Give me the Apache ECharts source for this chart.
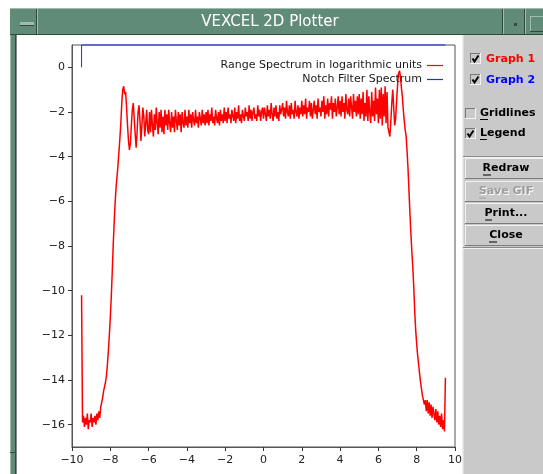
<!DOCTYPE html>
<html>
<head>
<meta charset="utf-8">
<script src="https://cdn.jsdelivr.net/npm/echarts@6/dist/echarts.min.js"></script>
<style>
  html, body { margin: 0; padding: 0; background: #fff; }
  #chart { width: 543px; height: 474px; }
</style>
</head>
<body>
<div id="chart"></div>
<script>
// samples of the range spectrum, one every 0.05 from -9.5
const rangeStart = -9.5;
const rangeStep = 0.05;
const rangeValues = [
  -10.2, -15.9, -15.6, -16.1, -15.7, -16.0, -15.5, -16.2, -15.8, -15.9, -15.5, -16.1, -15.7, -15.9, -15.6, -16.0, -15.5, -15.8, -15.4, -15.7,
  -15.2, -15.0, -14.8, -14.5, -14.3, -14.1, -13.8, -13.3, -12.7, -12.0, -11.2, -10.3, -9.2, -8.0, -7.0, -6.1, -5.4, -4.9, -4.4, -3.8, -3.2, -2.5, -1.6, -1.0, -0.85,
  -1.2, -1.1, -1.8, -2.6, -3.3, -3.7, -3.4, -2.6, -1.9, -1.6, -2.3, -3.0, -3.6, -2.9, -2.0, -1.7, -2.4, -3.3, -2.6, -1.8, -2.2, -3.1, -2.5, -1.9, -2.8,
  -3.0, -2.0, -2.9, -1.9, -2.6, -3.1, -2.1, -2.8, -1.8, -2.5, -3.0, -2.0, -2.7, -1.9, -2.9, -2.2, -3.0, -1.9, -2.6, -2.1,
  -2.8, -1.9, -2.5, -2.9, -2.0, -2.7, -2.2, -2.9, -1.9, -2.4, -2.8, -2.0, -2.6, -2.1, -2.9, -2.0, -2.5, -2.7, -1.9, -2.6,
  -2.2, -2.7, -1.9, -2.5, -2.1, -2.7, -2.0, -2.4, -2.6, -1.9, -2.5, -2.2, -2.7, -2.0, -2.3, -2.6, -1.9, -2.5, -2.1, -2.6,
  -2.0, -2.5, -1.9, -2.6, -2.1, -2.4, -1.8, -2.5, -2.2, -2.6, -1.9, -2.3, -2.5, -2.0, -2.6, -1.9, -2.4, -2.1, -2.5, -1.8,
  -2.4, -2.0, -2.5, -1.8, -2.3, -2.1, -2.5, -1.9, -2.2, -2.4, -1.8, -2.5, -2.0, -2.3, -1.7, -2.4, -2.1, -2.5, -1.9, -2.2,
  -2.4, -1.8, -2.2, -2.0, -2.4, -1.7, -2.3, -1.9, -2.4, -2.0, -1.8, -2.3, -2.1, -2.4, -1.7, -2.2, -1.9, -2.4, -2.0, -1.8,
  -2.3, -1.8, -2.1, -2.4, -1.7, -2.2, -1.9, -2.3, -1.6, -2.1, -2.4, -1.8, -2.2, -1.7, -2.3, -2.0, -2.4, -1.7, -2.1, -1.9,
  -1.6, -2.2, -1.8, -2.3, -1.5, -2.0, -2.2, -1.7, -2.3, -1.6, -2.1, -1.9, -2.3, -1.5, -2.0, -2.2, -1.7, -2.3, -1.8, -2.1,
  -1.5, -2.2, -1.7, -2.1, -1.4, -2.3, -1.8, -2.0, -1.5, -2.2, -1.6, -2.3, -1.9, -1.5, -2.1, -1.7, -2.3, -1.4, -2.0, -1.8,
  -2.2, -1.5, -2.0, -1.3, -2.3, -1.7, -2.1, -1.4, -2.2, -1.6, -1.9, -1.3, -2.3, -1.6, -2.0, -1.4, -2.2, -1.8, -1.3, -2.1,
  -1.5, -2.2, -1.3, -2.0, -1.6, -2.3, -1.2, -1.9, -2.1, -1.4, -2.2, -1.3, -1.8, -2.3, -1.2, -2.0, -1.5, -2.2, -1.3, -2.1,
  -1.2, -2.3, -1.4, -2.1, -1.1, -2.4, -1.6, -2.2, -1.0, -2.4, -1.3, -2.0, -2.5, -1.1, -2.2, -1.5, -2.4, -0.9, -2.1, -1.4,
  -2.5, -1.0, -2.3, -0.9, -2.6, -1.2, -2.2, -0.85, -2.5, -1.1, -2.7, -2.9, -3.1, -2.4, -1.6, -1.0, -1.8, -2.6, -2.3, -1.5,
  -0.8, -0.3, -0.15, -0.4, -0.9, -1.3, -1.9, -2.4, -2.8, -3.1, -3.8, -4.6, -5.6, -6.6, -7.5, -8.3, -9.0, -9.9, -11.0, -11.8,
  -12.4, -12.9, -13.3, -13.7, -14.1, -14.4, -14.7, -14.9, -15.1, -14.9, -15.4, -14.9, -15.5, -15.0, -15.6, -15.1, -15.7, -15.2, -15.5, -15.8,
  -15.3, -15.9, -15.4, -16.0, -15.6, -16.1, -15.5, -16.2, -15.8, -16.3,
  -13.9
];

// notch filter: a step at -9.5 up to the top of the plot
const notchX = [-9.5, -9.5, 9.5];
const notchValues = [0, 1, 1];

const seriesNames = ['Range Spectrum in logarithmic units', 'Notch Filter Spectrum'];
const xTicks = [-10, -8, -6, -4, -2, 0, 2, 4, 6, 8, 10];
const yTicks = [0, -2, -4, -6, -8, -10, -12, -14, -16];

const rangeData = rangeValues.map((v, i) => [rangeStart + i * rangeStep, v]);
const notchData = notchX.map((x, i) => [x, notchValues[i]]);

const FONT = 'DejaVu Sans';
const GREEN = '#618b79';
const GREEN_LIGHT = '#9fbdaf';
const GREEN_DARK = '#33483f';
const PANEL = '#c9c9c9';

const minus = (v) => String(v).replace('-', '\u2212');

// window chrome, drawn around the plot
const chrome = [];
const rect = (x, y, w, h, fill, z) =>
  chrome.push({ type: 'rect', shape: { x, y, width: w, height: h }, style: { fill }, z: z || 1, silent: true });
const line = (x1, y1, x2, y2, stroke, z) =>
  chrome.push({ type: 'line', shape: { x1, y1, x2, y2 }, style: { stroke, lineWidth: 1 }, z: z || 2, silent: true });
const label = (x, y, text, opts) =>
  chrome.push({
    type: 'text', x, y, z: 3, silent: true,
    style: Object.assign({ text, fontFamily: FONT, fontSize: 11, fill: '#000', verticalAlign: 'middle', textAlign: 'left' }, opts)
  });

// title bar
rect(10, 8, 533, 27, GREEN);
line(10, 8.5, 543, 8.5, GREEN_LIGHT);
line(10, 34.5, 543, 34.5, GREEN_DARK);
line(37.5, 9, 37.5, 34, GREEN_LIGHT);
line(36.5, 9, 36.5, 34, GREEN_DARK);
rect(20, 22, 14, 3, GREEN_LIGHT);
line(20, 25.5, 34, 25.5, GREEN_DARK);
line(503.5, 9, 503.5, 34, GREEN_LIGHT);
line(502.5, 9, 502.5, 34, GREEN_DARK);
rect(514, 23, 3, 3, GREEN_DARK);
line(525.5, 9, 525.5, 34, GREEN_LIGHT);
line(524.5, 9, 524.5, 34, GREEN_DARK);
line(530, 16.5, 543, 16.5, GREEN_LIGHT);
line(530.5, 16, 530.5, 32, GREEN_LIGHT);
line(530, 31.5, 543, 31.5, GREEN_DARK);
label(270, 22, 'VEXCEL 2D Plotter', { fontSize: 15, fill: '#ffffff', textAlign: 'center' });

// left frame
rect(10, 35, 6, 439, GREEN);
line(10.5, 35, 10.5, 474, GREEN_LIGHT);
line(15.5, 35, 15.5, 474, GREEN_DARK);
line(16.5, 35, 16.5, 474, '#888888');
line(10, 452.5, 16, 452.5, GREEN_DARK);

// side panel
rect(462, 35, 81, 439, PANEL);
line(462.5, 35, 462.5, 474, '#eeeeee');
line(463.5, 35, 463.5, 474, '#dddddd');

const checkbox = (x, y, checked) => {
  rect(x, y, 11, 11, PANEL, 2);
  line(x, y + 0.5, x + 11, y + 0.5, '#777777');
  line(x + 0.5, y, x + 0.5, y + 11, '#777777');
  line(x, y + 10.5, x + 11, y + 10.5, '#f4f4f4');
  line(x + 10.5, y, x + 10.5, y + 11, '#f4f4f4');
  if (checked) {
    chrome.push({
      type: 'polyline', z: 3, silent: true,
      shape: { points: [[x + 2.5, y + 5.5], [x + 4.5, y + 8.5], [x + 8.5, y + 2.5]] },
      style: { stroke: '#000', lineWidth: 2, fill: null }
    });
  }
};
const underline = (x1, x2, y) => line(x1, y + 0.5, x2, y + 0.5, '#000', 3);

checkbox(470, 53, true);
label(486, 59, 'Graph 1', { fontWeight: 'bold', fill: '#ff0000' });
checkbox(470, 74, true);
label(486, 80, 'Graph 2', { fontWeight: 'bold', fill: '#0000ff' });
checkbox(465, 108, false);
label(480, 113.5, 'Gridlines', { fontWeight: 'bold' });
underline(480, 488, 119);
checkbox(465, 128, true);
label(480, 133.5, 'Legend', { fontWeight: 'bold' });
underline(480, 487, 139);

line(463, 156.5, 543, 156.5, '#8a8a8a');
line(463, 157.5, 543, 157.5, '#f0f0f0');

const button = (y, h, text, ux1, ux2, disabled) => {
  line(465, y + 0.5, 543, y + 0.5, '#f2f2f2');
  line(465.5, y, 465.5, y + h, '#f2f2f2');
  line(465, y + h - 0.5, 543, y + h - 0.5, '#7c7c7c');
  if (disabled) {
    label(507, y + h / 2 + 1, text, { fontWeight: 'bold', fill: '#ffffff', textAlign: 'center' });
    label(506, y + h / 2, text, { fontWeight: 'bold', fill: '#9c9c9c', textAlign: 'center' });
    line(ux1, y + h / 2 + 6.5, ux2, y + h / 2 + 6.5, '#9c9c9c', 3);
  } else {
    label(506, y + h / 2, text, { fontWeight: 'bold', textAlign: 'center' });
    underline(ux1, ux2, y + h / 2 + 6);
  }
};
button(158, 21, 'Redraw', 483, 491);
button(181, 21, 'Save GIF', 479, 486, true);
button(203, 21, 'Print...', 485, 492);
button(225, 21, 'Close', 489, 497);

line(463, 247.5, 543, 247.5, '#8a8a8a');
line(463, 248.5, 543, 248.5, '#f0f0f0');

const chart = echarts.init(document.getElementById('chart'));
chart.setOption({
  animation: false,
  backgroundColor: '#ffffff',
  textStyle: { fontFamily: FONT },
  grid: {
    left: 72, right: 88, top: 45, bottom: 27,
    show: true, borderColor: '#555555', borderWidth: 1, backgroundColor: 'transparent'
  },
  legend: {
    orient: 'vertical',
    right: 95,
    top: 54,
    align: 'right',
    icon: 'rect',
    itemWidth: 16,
    itemHeight: 1.2,
    itemGap: 1,
    data: seriesNames,
    textStyle: { fontFamily: FONT, fontSize: 11, lineHeight: 13, color: '#1a1a1a' }
  },
  xAxis: {
    type: 'value',
    min: -10, max: 10, interval: 2,
    axisLine: { show: true, onZero: false, lineStyle: { color: '#555555' } },
    axisTick: { show: true, length: 4, lineStyle: { color: '#333333' }, customValues: xTicks },
    axisLabel: { color: '#222', fontSize: 11, margin: 8, formatter: minus, customValues: xTicks },
    splitLine: { show: false }
  },
  yAxis: {
    type: 'value',
    min: -17, max: 1,
    axisLine: { show: true, onZero: false, lineStyle: { color: '#555555' } },
    axisTick: { show: true, length: 4, lineStyle: { color: '#333333' }, customValues: yTicks },
    axisLabel: { color: '#222', fontSize: 11, margin: 7, formatter: minus, customValues: yTicks },
    splitLine: { show: false }
  },
  series: [
    {
      name: seriesNames[0],
      type: 'line',
      data: rangeData,
      symbol: 'none',
      sampling: null,
      lineStyle: { color: '#ff0000', width: 1.5 },
      itemStyle: { color: '#ff0000' },
      clip: true,
      z: 2
    },
    {
      name: seriesNames[1],
      type: 'line',
      data: notchData,
      symbol: 'none',
      lineStyle: { color: '#2626ff', width: 1 },
      itemStyle: { color: '#2626ff' },
      clip: false,
      z: 3
    }
  ],
  graphic: { elements: chrome }
});
</script>
</body>
</html>
